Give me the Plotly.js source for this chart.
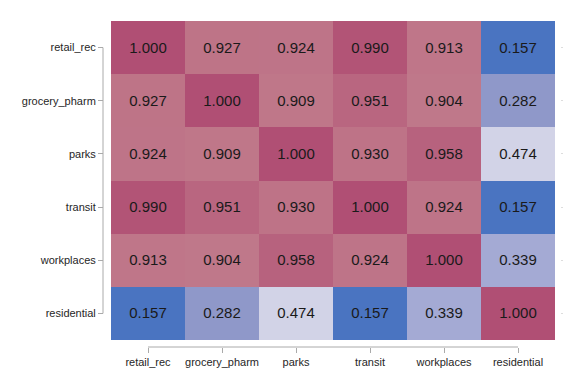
<!DOCTYPE html>
<html><head><meta charset="utf-8">
<script src="https://cdn.plot.ly/plotly-3.0.1.min.js"></script>
<style>html,body{margin:0;padding:0;background:#fff}#chart{width:576px;height:384px}</style>
</head><body><div id="chart"></div>
<script>
const categories = ["retail_rec","grocery_pharm","parks","transit","workplaces","residential"];
const row_retail_rec    = [1.000, 0.927, 0.924, 0.990, 0.913, 0.157];
const row_grocery_pharm = [0.927, 1.000, 0.909, 0.951, 0.904, 0.282];
const row_parks         = [0.924, 0.909, 1.000, 0.930, 0.958, 0.474];
const row_transit       = [0.990, 0.951, 0.930, 1.000, 0.924, 0.157];
const row_workplaces    = [0.913, 0.904, 0.958, 0.924, 1.000, 0.339];
const row_residential   = [0.157, 0.282, 0.474, 0.157, 0.339, 1.000];
const z = [row_retail_rec,row_grocery_pharm,row_parks,row_transit,row_workplaces,row_residential];

const zmin = 0.157, zmax = 1.0;
const stop = v => (v - zmin) / (zmax - zmin);
const colorscale = [
  [0, "#4a74c1"],
  [stop(0.282), "#8f98c9"],
  [stop(0.339), "#a4aad4"],
  [stop(0.474), "#d2d3e7"],
  [stop(0.904), "#bf788a"],
  [stop(0.930), "#be7387"],
  [stop(0.958), "#b7627e"],
  [1, "#b04f74"]
];

const FONT = "'Liberation Sans', Arial, sans-serif";
const heat = {
  type: "heatmap", x: categories, y: categories, z: z,
  zmin: zmin, zmax: zmax, colorscale: colorscale, showscale: false,
  texttemplate: "%{z:.3f}", textfont: {family: FONT, size: 15, color: "#1a1a1a"},
  hoverinfo: "skip"
};
const dummy = {
  type: "scatter", mode: "markers", x: categories, y: categories, yaxis: "y2",
  marker: {opacity: 0}, hoverinfo: "skip", showlegend: false
};
const tickfont = {family: FONT, size: 11, color: "#262626"};
const layout = {
  width: 576, height: 384,
  font: {family: FONT},
  margin: {l: 103, r: 13, t: 21, b: 37},
  paper_bgcolor: "#fff", plot_bgcolor: "#fff",
  showlegend: false,
  xaxis: {type: "category", categoryarray: categories, domain: [8/460, 452/460],
          anchor: "free", position: 0, showgrid: false, zeroline: false, showline: false,
          ticks: "outside", ticklen: 5, tickcolor: "#aaa", tickwidth: 1, tickfont: tickfont, range: [-0.5, 5.5]},
  yaxis: {type: "category", categoryarray: categories, domain: [7/326, 1],
          anchor: "free", position: 0, showgrid: false, zeroline: false, showline: false,
          ticks: "outside", ticklen: 5, tickcolor: "#aaa", tickwidth: 1, tickfont: tickfont, range: [5.5, -0.5]},
  yaxis2: {type: "category", categoryarray: categories, overlaying: "y", side: "right",
           anchor: "free", position: 1, showgrid: false, zeroline: false, showline: false,
           ticks: "inside", ticklen: 2, tickcolor: "#ddd", showticklabels: false, range: [5.5, -0.5]},
  shapes: [
    {type: "line", xref: "paper", yref: "y", x0: 0, x1: 0, y0: categories[0], y1: categories[categories.length-1],
     line: {color: "#aaa", width: 1}},
    {type: "line", xref: "x", yref: "paper", x0: categories[0], x1: categories[categories.length-1], y0: 0, y1: 0,
     line: {color: "#aaa", width: 1}}
  ]
};
Plotly.newPlot("chart", [heat, dummy], layout, {displayModeBar: false, staticPlot: true});
</script></body></html>
